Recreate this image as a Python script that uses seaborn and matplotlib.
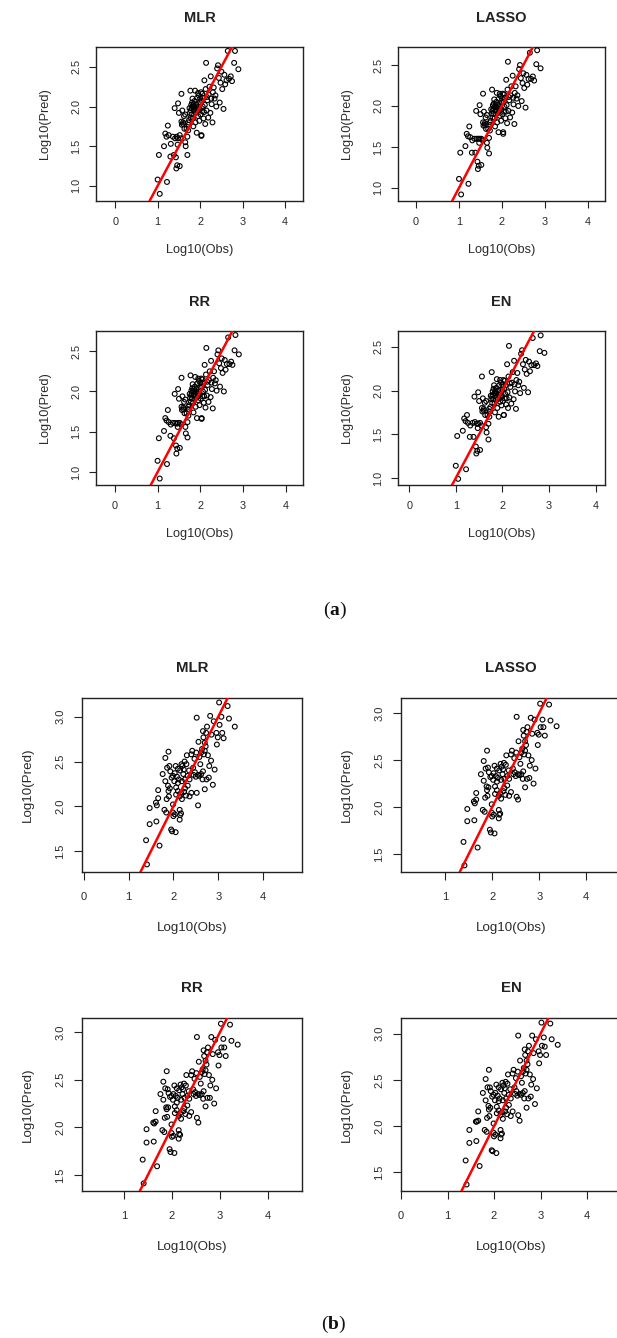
import matplotlib
matplotlib.use("Agg")
import matplotlib.pyplot as plt
import seaborn as sns
import pandas as pd

# ---------------- data: panel (a) ----------------
obs_a = [1.00, 1.05, 1.03, 1.22, 1.15, 1.18, 1.24, 1.26, 1.21, 1.30, 1.31, 1.38, 1.40, 1.41, 1.44, 1.46,
         1.43, 1.48, 1.50, 1.52, 1.52, 1.56, 1.56, 1.55, 1.47, 1.45, 1.60, 1.58, 1.62, 1.63, 1.65, 1.66,
         1.70, 1.70, 1.72, 1.74, 1.75, 1.77, 1.78, 1.79, 1.80, 1.81, 1.82, 1.83, 1.84, 1.85, 1.86, 1.87,
         1.88, 1.89, 1.90, 1.91, 1.92, 1.93, 1.94, 1.95, 1.96, 1.97, 1.98, 1.99, 2.00, 2.01, 2.02, 2.03,
         2.04, 2.05, 2.06, 2.07, 2.08, 2.10, 2.11, 2.12, 2.13, 2.14, 2.15, 2.17, 2.19, 2.20, 2.22, 2.24,
         2.25, 2.27, 2.29, 2.30, 2.32, 2.34, 2.36, 2.38, 2.40, 2.42, 2.44, 2.46, 2.48, 2.50, 2.52, 2.55,
         2.57, 2.59, 2.62, 2.65, 2.68, 2.72, 2.75, 2.80, 2.82, 2.90, 1.76, 1.80, 1.83, 1.85, 1.78, 1.88,
         1.92, 1.60, 1.57, 1.68, 1.73, 2.00, 2.05, 2.09, 1.95, 2.16, 2.26, 1.65, 1.72, 2.03, 1.36, 1.48]
pred_a_mlr = [1.08, 0.90, 1.39, 1.05, 1.50, 1.66, 1.76, 1.64, 1.62, 1.37, 1.53, 1.39, 1.98, 1.60, 1.22, 1.26,
              1.36, 2.04, 1.92, 1.64, 1.25, 2.16, 1.81, 1.60, 1.52, 1.62, 1.78, 1.95, 1.88, 1.72, 1.55, 1.50,
              1.39, 1.62, 1.70, 1.83, 1.98, 2.20, 1.95, 2.02, 1.90, 2.05, 2.10, 1.85, 1.75, 1.96, 2.00, 2.07,
              2.20, 1.80, 1.92, 2.03, 1.67, 2.11, 1.95, 1.88, 2.00, 2.14, 1.82, 1.97, 2.05, 1.90, 2.18, 1.63,
              2.07, 1.94, 2.00, 2.11, 1.85, 2.33, 2.02, 1.78, 2.22, 2.55, 1.95, 2.08, 1.86, 2.15, 2.25, 1.92,
              2.38, 2.03, 1.80, 2.18, 2.24, 2.10, 2.14, 2.00, 2.48, 2.52, 2.36, 2.05, 2.30, 2.44, 2.22, 1.97,
              2.40, 2.28, 2.33, 2.70, 2.35, 2.38, 2.32, 2.55, 2.70, 2.47, 1.92, 1.98, 2.00, 2.03, 1.86, 1.95,
              1.98, 1.80, 1.77, 1.72, 1.77, 2.10, 2.16, 1.93, 2.17, 2.12, 2.10, 1.90, 1.80, 1.64, 1.62, 1.60]
pred_a_lasso = [1.11, 0.92, 1.43, 1.05, 1.51, 1.66, 1.75, 1.62, 1.63, 1.43, 1.58, 1.43, 1.94, 1.60, 1.23, 1.27,
                1.32, 2.01, 1.90, 1.60, 1.28, 2.15, 1.80, 1.58, 1.55, 1.60, 1.77, 1.93, 1.86, 1.72, 1.55, 1.49,
                1.42, 1.61, 1.70, 1.82, 1.96, 2.20, 1.94, 2.01, 1.90, 2.03, 2.08, 1.85, 1.75, 1.95, 1.99, 2.05,
                2.16, 1.80, 1.91, 2.02, 1.68, 2.09, 1.94, 1.88, 1.99, 2.12, 1.82, 1.96, 2.04, 1.90, 2.15, 1.66,
                2.05, 1.93, 1.99, 2.10, 1.85, 2.32, 2.01, 1.79, 2.20, 2.54, 1.94, 2.07, 1.86, 2.13, 2.24, 1.92,
                2.37, 2.02, 1.78, 2.16, 2.24, 2.09, 2.13, 2.00, 2.45, 2.50, 2.34, 2.06, 2.28, 2.40, 2.22, 1.98,
                2.38, 2.26, 2.33, 2.65, 2.33, 2.36, 2.31, 2.51, 2.68, 2.46, 1.91, 1.97, 1.99, 2.02, 1.86, 1.94,
                1.97, 1.79, 1.76, 1.72, 1.77, 2.09, 2.14, 1.93, 2.15, 2.11, 2.10, 1.89, 1.80, 1.68, 1.60, 1.60]
pred_a_rr = [1.14, 0.92, 1.42, 1.10, 1.51, 1.67, 1.77, 1.62, 1.64, 1.45, 1.59, 1.42, 1.97, 1.61, 1.23, 1.29,
             1.33, 2.03, 1.91, 1.61, 1.30, 2.17, 1.81, 1.59, 1.56, 1.60, 1.78, 1.94, 1.87, 1.73, 1.56, 1.48,
             1.43, 1.62, 1.70, 1.83, 1.97, 2.20, 1.95, 2.01, 1.91, 2.04, 2.09, 1.86, 1.74, 1.96, 2.00, 2.06,
             2.18, 1.81, 1.92, 2.03, 1.67, 2.10, 1.95, 1.89, 2.00, 2.13, 1.83, 1.97, 2.05, 1.91, 2.16, 1.66,
             2.06, 1.94, 2.00, 2.11, 1.86, 2.33, 2.02, 1.80, 2.21, 2.54, 1.95, 2.08, 1.87, 2.14, 2.25, 1.93,
             2.38, 2.03, 1.79, 2.17, 2.25, 2.10, 2.14, 2.01, 2.46, 2.51, 2.35, 2.06, 2.29, 2.41, 2.23, 2.00,
             2.39, 2.27, 2.34, 2.67, 2.34, 2.37, 2.33, 2.51, 2.70, 2.46, 1.92, 1.98, 2.00, 2.03, 1.87, 1.95,
             1.98, 1.80, 1.77, 1.73, 1.78, 2.10, 2.15, 1.94, 2.16, 2.12, 2.11, 1.90, 1.81, 1.67, 1.61, 1.61]
pred_a_en = [1.14, 0.99, 1.48, 1.10, 1.54, 1.68, 1.72, 1.63, 1.65, 1.47, 1.60, 1.47, 1.93, 1.64, 1.28, 1.31,
             1.36, 1.98, 1.88, 1.63, 1.32, 2.16, 1.80, 1.60, 1.57, 1.62, 1.77, 1.91, 1.86, 1.72, 1.58, 1.52,
             1.44, 1.62, 1.70, 1.81, 1.94, 2.21, 1.93, 1.99, 1.90, 2.02, 2.06, 1.85, 1.75, 1.94, 1.97, 2.03,
             2.13, 1.80, 1.90, 2.00, 1.70, 2.06, 1.93, 1.87, 1.97, 2.09, 1.83, 1.94, 2.01, 1.88, 2.12, 1.72,
             2.02, 1.91, 1.96, 2.06, 1.84, 2.30, 1.98, 1.80, 2.16, 2.51, 1.92, 2.04, 1.85, 2.09, 2.21, 1.90,
             2.34, 1.99, 1.79, 2.12, 2.20, 2.06, 2.10, 1.97, 2.42, 2.46, 2.30, 2.03, 2.24, 2.35, 2.19, 1.98,
             2.33, 2.22, 2.29, 2.60, 2.29, 2.31, 2.28, 2.45, 2.63, 2.43, 1.90, 1.95, 1.97, 2.00, 1.86, 1.92,
             1.95, 1.79, 1.76, 1.72, 1.76, 2.06, 2.11, 1.91, 2.12, 2.08, 2.07, 1.88, 1.79, 1.72, 1.63, 1.62]

# ---------------- data: panel (b) ----------------
obs_b = [1.39, 1.41, 1.69, 1.47, 1.47, 1.62, 1.66, 1.66, 1.61, 1.63, 1.80, 1.84, 1.82, 1.89, 1.86, 1.91,
         1.82, 1.88, 1.89, 1.90, 1.93, 1.95, 1.97, 2.05, 1.99, 2.00, 2.03, 1.99, 2.14, 2.14, 2.17, 1.99,
         2.03, 2.06, 2.10, 2.14, 2.17, 2.20, 2.23, 2.25, 2.29, 2.32, 2.32, 2.36, 2.40, 2.44, 2.47, 2.51,
         2.52, 2.55, 2.52, 2.58, 2.62, 2.66, 2.64, 2.66, 2.67, 2.70, 2.73, 2.75, 2.72, 2.77, 2.79, 2.82,
         2.84, 2.88, 2.92, 2.96, 2.97, 2.99, 3.02, 3.03, 3.07, 3.09, 3.12, 3.21, 3.24, 3.37, 2.70, 2.10,
         2.15, 2.18, 2.22, 2.26, 2.12, 2.08, 2.19, 2.24, 2.28, 2.35, 2.40, 2.42, 2.45, 2.50, 2.55, 2.60,
         2.68, 2.70, 2.74, 2.62, 1.92, 1.96, 2.02, 2.06, 2.10, 2.15, 2.19, 2.26, 2.36, 2.48, 2.58, 2.65,
         2.80, 2.85, 1.76, 1.85, 2.05, 2.30, 2.56, 2.90]
pred_b_mlr = [1.62, 1.35, 1.56, 1.80, 1.98, 1.83, 2.18, 2.09, 2.04, 2.01, 1.96, 1.93, 2.54, 2.61, 2.43, 2.45,
              2.28, 2.23, 2.17, 2.11, 2.39, 1.74, 1.72, 1.71, 1.93, 1.89, 1.91, 2.02, 1.96, 1.85, 1.92, 2.34,
              2.37, 2.21, 2.26, 2.11, 2.15, 2.45, 2.41, 2.50, 2.47, 2.34, 2.23, 2.11, 2.15, 2.43, 2.53, 2.60,
              2.99, 2.01, 2.15, 2.34, 2.36, 2.39, 2.64, 2.84, 2.77, 2.71, 2.82, 2.89, 2.67, 2.57, 2.32, 3.01,
              2.51, 2.24, 2.41, 2.82, 2.69, 2.77, 3.16, 2.91, 3.00, 2.82, 2.76, 3.12, 2.98, 2.89, 2.19, 2.42,
              2.40, 2.47, 2.36, 2.30, 2.30, 2.33, 2.28, 2.16, 2.12, 2.40, 2.58, 2.62, 2.35, 2.33, 2.35, 2.47,
              2.58, 2.62, 2.30, 2.60, 2.20, 2.32, 2.28, 2.13, 2.17, 1.90, 2.08, 2.20, 2.30, 2.38, 2.55, 2.30,
              2.45, 2.80, 2.36, 2.08, 2.45, 2.57, 2.72, 2.95]
pred_b_lasso = [1.63, 1.38, 1.57, 1.85, 1.98, 1.86, 2.15, 2.08, 2.06, 2.04, 1.97, 1.95, 2.49, 2.60, 2.41, 2.42,
                2.28, 2.22, 2.18, 2.12, 2.37, 1.76, 1.73, 1.72, 1.94, 1.90, 1.92, 2.03, 1.97, 1.88, 1.93, 2.33,
                2.36, 2.22, 2.27, 2.12, 2.15, 2.43, 2.40, 2.47, 2.45, 2.33, 2.23, 2.12, 2.16, 2.41, 2.52, 2.58,
                2.96, 2.08, 2.11, 2.34, 2.35, 2.38, 2.62, 2.82, 2.76, 2.70, 2.80, 2.85, 2.66, 2.55, 2.31, 2.95,
                2.50, 2.25, 2.41, 2.79, 2.66, 2.77, 3.10, 2.85, 2.93, 2.85, 2.76, 3.09, 2.92, 2.86, 2.21, 2.41,
                2.39, 2.46, 2.35, 2.30, 2.31, 2.33, 2.29, 2.17, 2.13, 2.39, 2.56, 2.60, 2.35, 2.33, 2.35, 2.46,
                2.56, 2.60, 2.30, 2.58, 2.21, 2.32, 2.29, 2.14, 2.18, 1.92, 2.09, 2.20, 2.30, 2.37, 2.53, 2.30,
                2.44, 2.78, 2.35, 2.10, 2.44, 2.55, 2.70, 2.93]
pred_b_rr = [1.66, 1.41, 1.59, 1.84, 1.98, 1.85, 2.17, 2.06, 2.05, 2.04, 1.97, 1.95, 2.48, 2.59, 2.41, 2.40,
             2.29, 2.21, 2.19, 2.11, 2.36, 1.77, 1.74, 1.73, 1.94, 1.90, 1.91, 2.03, 1.97, 1.88, 1.92, 2.33,
             2.35, 2.22, 2.26, 2.12, 2.15, 2.42, 2.40, 2.46, 2.44, 2.33, 2.23, 2.12, 2.16, 2.40, 2.51, 2.57,
             2.95, 2.05, 2.10, 2.34, 2.35, 2.38, 2.61, 2.81, 2.75, 2.70, 2.79, 2.84, 2.66, 2.55, 2.31, 2.95,
             2.50, 2.25, 2.41, 2.79, 2.65, 2.76, 3.09, 2.84, 2.93, 2.84, 2.75, 3.08, 2.91, 2.87, 2.22, 2.41,
             2.39, 2.45, 2.35, 2.31, 2.31, 2.33, 2.29, 2.17, 2.14, 2.38, 2.55, 2.59, 2.35, 2.33, 2.35, 2.46,
             2.56, 2.60, 2.31, 2.58, 2.21, 2.32, 2.29, 2.15, 2.18, 1.93, 2.09, 2.20, 2.30, 2.37, 2.53, 2.30,
             2.44, 2.77, 2.35, 2.10, 2.44, 2.55, 2.69, 2.92]
pred_b_en = [1.63, 1.37, 1.57, 1.82, 1.96, 1.84, 2.16, 2.06, 2.05, 2.05, 1.96, 1.94, 2.51, 2.61, 2.42, 2.42,
             2.28, 2.22, 2.18, 2.11, 2.38, 1.74, 1.73, 1.71, 1.93, 1.89, 1.91, 2.03, 1.96, 1.87, 1.92, 2.34,
             2.36, 2.21, 2.27, 2.12, 2.15, 2.44, 2.41, 2.48, 2.46, 2.34, 2.23, 2.11, 2.16, 2.42, 2.52, 2.59,
             2.98, 2.06, 2.12, 2.34, 2.36, 2.38, 2.63, 2.83, 2.77, 2.71, 2.81, 2.87, 2.67, 2.56, 2.32, 2.98,
             2.51, 2.24, 2.41, 2.81, 2.68, 2.77, 3.12, 2.87, 2.96, 2.86, 2.77, 3.11, 2.94, 2.88, 2.20, 2.42,
             2.40, 2.47, 2.36, 2.30, 2.30, 2.33, 2.28, 2.16, 2.13, 2.40, 2.57, 2.61, 2.35, 2.33, 2.35, 2.47,
             2.57, 2.61, 2.30, 2.59, 2.20, 2.32, 2.28, 2.14, 2.17, 1.91, 2.08, 2.20, 2.30, 2.38, 2.54, 2.30,
             2.45, 2.79, 2.36, 2.09, 2.45, 2.56, 2.71, 2.94]

models = ["MLR", "LASSO", "RR", "EN"]
preds_a = [pred_a_mlr, pred_a_lasso, pred_a_rr, pred_a_en]
preds_b = [pred_b_mlr, pred_b_lasso, pred_b_rr, pred_b_en]

xticks_a = [[0, 1, 2, 3, 4]] * 4
yticks_a = [[1.0, 1.5, 2.0, 2.5]] * 4
xticks_b = [[0, 1, 2, 3, 4], [1, 2, 3, 4], [1, 2, 3, 4], [0, 1, 2, 3, 4]]
yticks_b = [[1.5, 2.0, 2.5, 3.0]] * 4

xlims_a = [(-0.45, 4.42), (-0.42, 4.40), (-0.44, 4.40), (-0.24, 4.20)]
ylims_a = [(0.81, 2.75), (0.84, 2.72), (0.84, 2.75), (0.92, 2.68)]
xlims_b = [(-0.04, 4.87), (0.06, 4.74), (0.125, 4.71), (0.0, 4.73)]
ylims_b = [(1.265, 3.21), (1.31, 3.16), (1.33, 3.15), (1.30, 3.17)]

# ---------------- figure ----------------
sns.set_style("ticks")
plt.rcParams["font.family"] = ["Liberation Sans", "DejaVu Sans"]
plt.rcParams["mathtext.fontset"] = "custom"
plt.rcParams["mathtext.rm"] = "Liberation Serif"
plt.rcParams["mathtext.bf"] = "Liberation Serif:bold"

W, H = 617, 1338
fig = plt.figure(figsize=(W / 100, H / 100), dpi=100)
fig.patch.set_facecolor("white")

# pixel boxes (left, top, right, bottom)
boxes_a = [(96, 47, 303, 201), (398, 47, 605, 201), (96, 331, 303, 485), (398, 331, 605, 485)]
boxes_b = [(82, 698, 302, 872), (401, 698, 621, 872), (82, 1018, 302, 1191), (401, 1018, 621, 1191)]


def draw(box, obs, pred, title, xt, yt, xl, yl, big):
    l, t, r, b = box
    ax = fig.add_axes([l / W, 1 - b / H, (r - l) / W, (b - t) / H])
    df = pd.DataFrame({"obs": obs, "pred": pred})
    sns.scatterplot(data=df, x="obs", y="pred", ax=ax, marker="o", s=12,
                    facecolor="none", edgecolor="black", linewidth=0.8, zorder=3)
    ax.axline((0, 0), slope=1, color="#ff0000", lw=1.8, zorder=4)
    ax.set_xlim(*xl)
    ax.set_ylim(*yl)
    ax.set_xticks(xt)
    ax.set_xticklabels([str(v) for v in xt])
    ax.set_yticks(yt)
    ax.set_yticklabels([f"{v:.1f}" for v in yt], rotation=90, va="center")
    fs_tick = 8.0 if big else 7.8
    fs_lab = 9.6 if big else 9.2
    ax.tick_params(axis="x", direction="out", length=5.5 if big else 5.2, width=0.8,
                   labelsize=fs_tick, colors="#222222", labelcolor="#2a2a2a",
                   pad=9.0 if big else 6.5)
    ax.tick_params(axis="y", direction="out", length=5.5 if big else 5.2, width=0.8,
                   labelsize=fs_tick, colors="#222222", labelcolor="#2a2a2a",
                   pad=6.5 if big else 5.5)
    for sp in ax.spines.values():
        sp.set_visible(True)
        sp.set_linewidth(1.0)
        sp.set_color("#222222")
    ax.set_xlabel("")
    ax.set_ylabel("")
    ax.annotate(title, xy=(0.5, 1), xycoords="axes fraction", xytext=(0, 30 if big else 29),
                textcoords="offset pixels", ha="center", va="center",
                fontsize=10.8 if big else 10.5, fontweight="bold", color="#222222")
    ax.annotate("Log10(Obs)", xy=(0.5, 0), xycoords="axes fraction",
                xytext=(0, -(56 if big else 49)), textcoords="offset pixels",
                ha="center", va="center", fontsize=fs_lab, color="#2a2a2a")
    ax.annotate("Log10(Pred)", xy=(0, 0.5), xycoords="axes fraction",
                xytext=(-(54 if big else 51), 0), textcoords="offset pixels",
                ha="center", va="center", rotation=90, fontsize=fs_lab, color="#2a2a2a")
    ax.set_facecolor("white")
    return ax


for i, m in enumerate(models):
    draw(boxes_a[i], obs_a, preds_a[i], m, xticks_a[i], yticks_a[i], xlims_a[i], ylims_a[i], False)
    draw(boxes_b[i], obs_b, preds_b[i], m, xticks_b[i], yticks_b[i], xlims_b[i], ylims_b[i], True)

fig.text(335 / W, 1 - 610 / H, r"($\mathbf{a}$)", ha="center", va="center",
         fontsize=14, family="Liberation Serif", color="#111111")
fig.text(334 / W, 1 - 1324 / H, r"($\mathbf{b}$)", ha="center", va="center",
         fontsize=14, family="Liberation Serif", color="#111111")

fig.savefig("out.png", dpi=100, facecolor="white")
